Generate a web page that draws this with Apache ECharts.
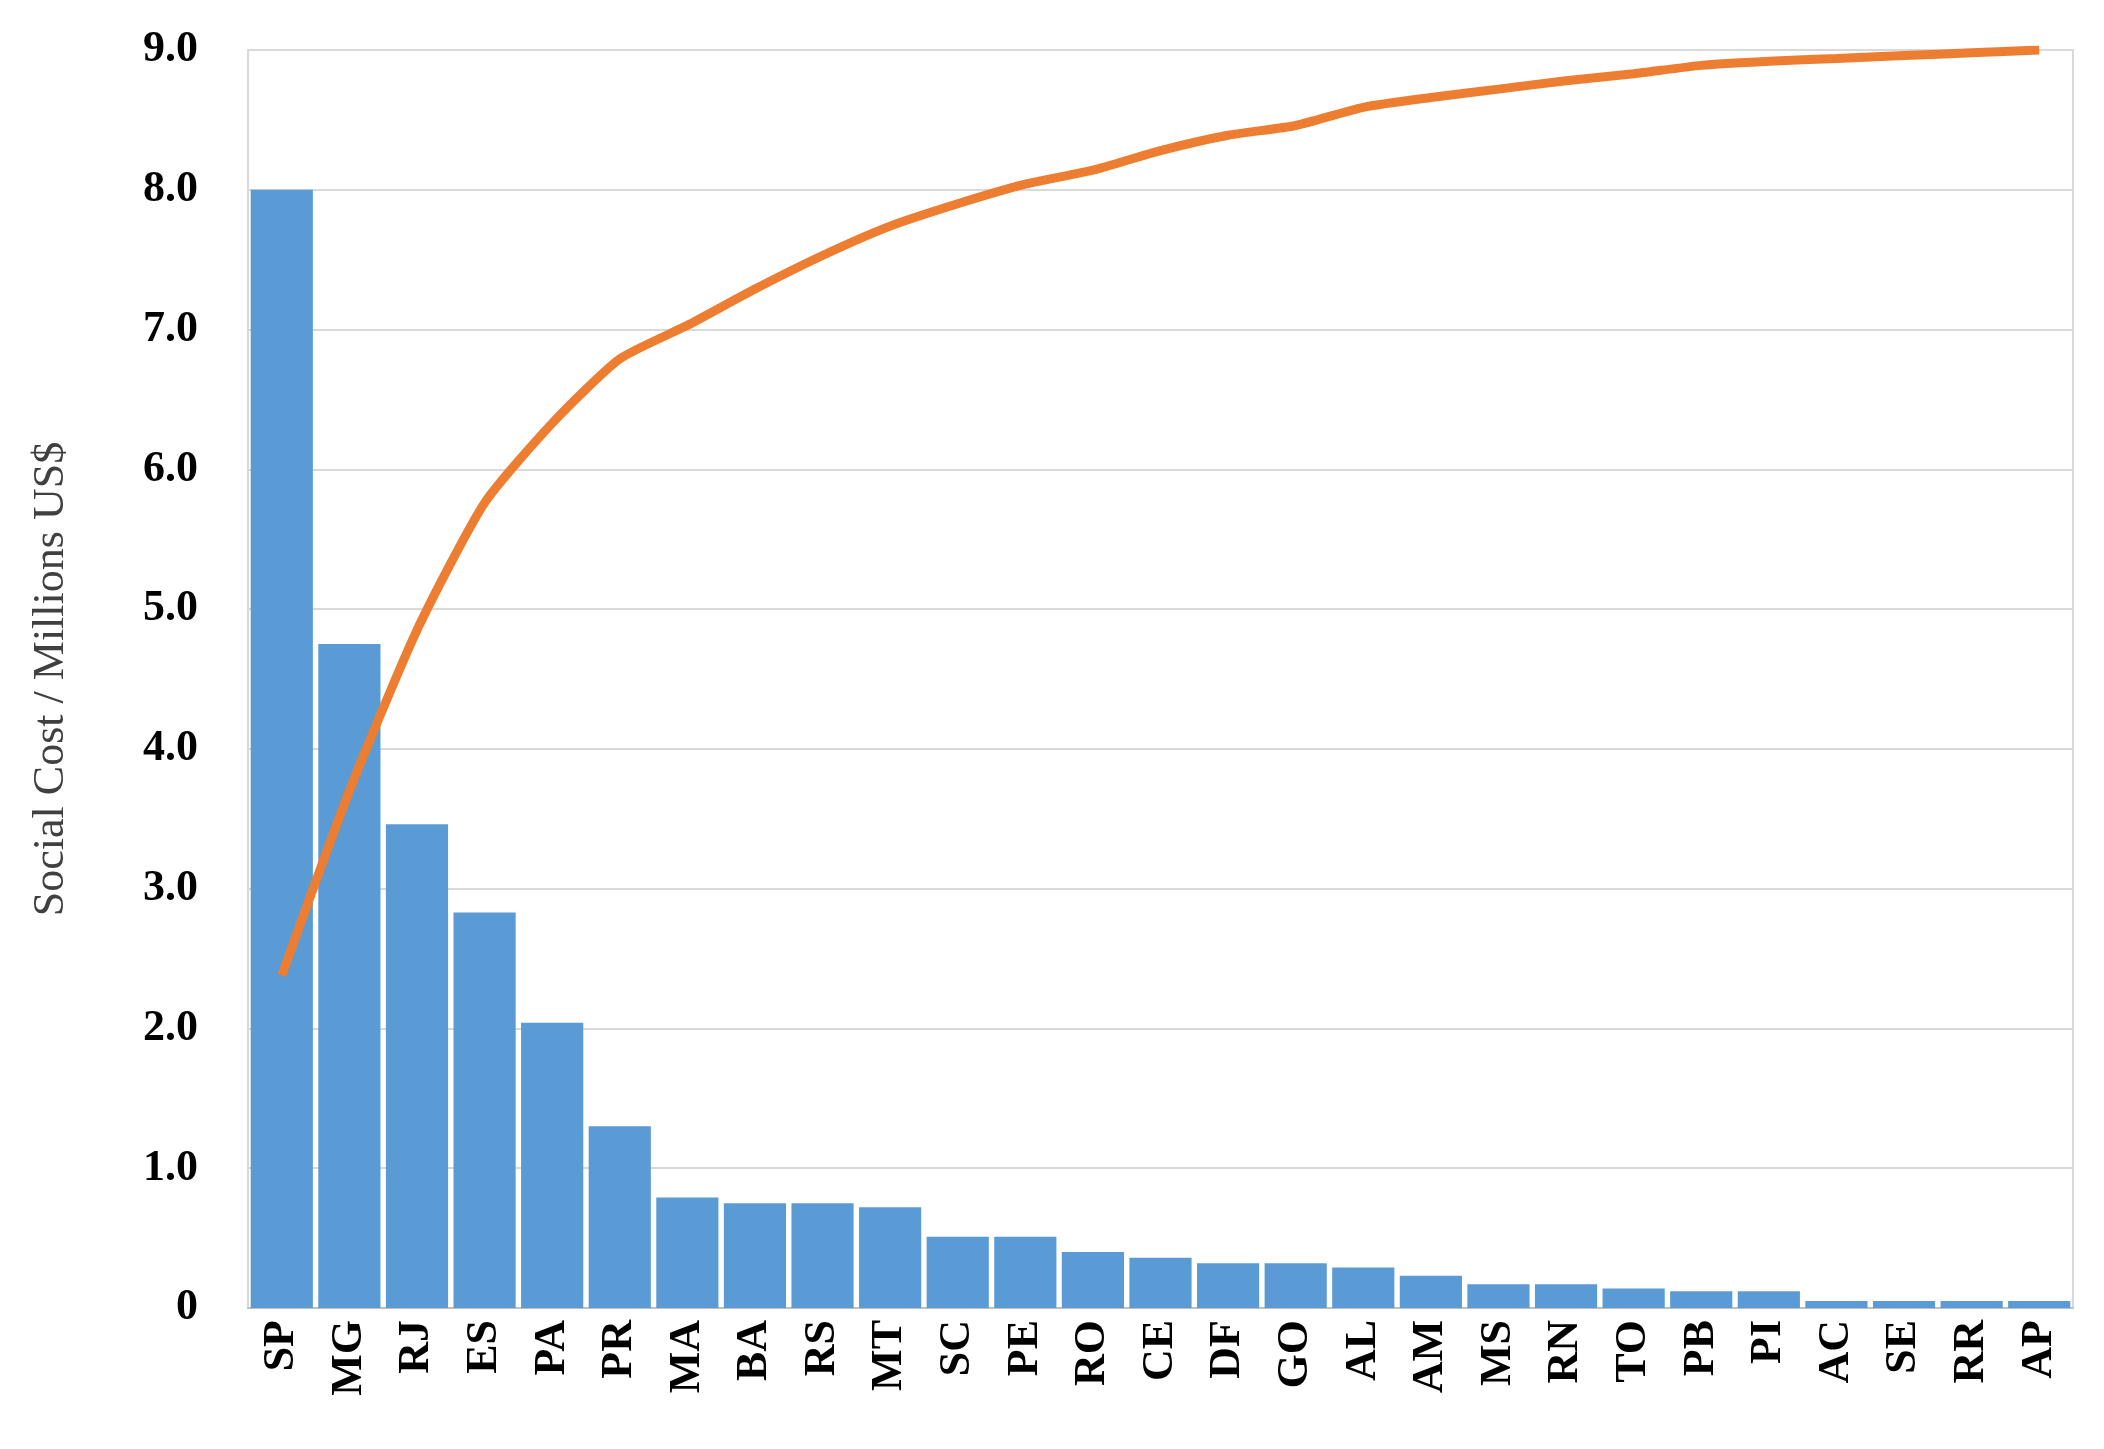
<!DOCTYPE html>
<html>
<head>
<meta charset="utf-8">
<script src="https://cdn.jsdelivr.net/npm/echarts@6/dist/echarts.min.js"></script>
<style>html,body{margin:0;padding:0;background:#fff}#chart{width:2104px;height:1449px}</style>
</head>
<body>
<div id="chart"></div>
<script>
var states = ['SP','MG','RJ','ES','PA','PR','MA','BA','RS','MT','SC','PE','RO','CE','DF','GO','AL','AM','MS','RN','TO','PB','PI','AC','SE','RR','AP'];
var costs = [8.0,4.75,3.46,2.83,2.04,1.30,0.79,0.75,0.75,0.72,0.51,0.51,0.40,0.36,0.32,0.32,0.29,0.23,0.17,0.17,0.14,0.12,0.12,0.05,0.05,0.05,0.05];
var cumulative = [2.38,3.7,4.85,5.76,6.33,6.79,7.03,7.29,7.53,7.74,7.9,8.04,8.14,8.28,8.39,8.46,8.59,8.66,8.72,8.78,8.83,8.89,8.92,8.94,8.96,8.98,9.0];

var chart = echarts.init(document.getElementById('chart'));
var serif = 'Liberation Serif';
chart.setOption({
    animation: false,
    grid: { left: 248, right: 31, top: 50, bottom: 141, show: true, borderColor: '#d9d9d9', borderWidth: 2 },
    xAxis: {
        type: 'category',
        data: states,
        axisTick: { show: false },
        axisLine: { lineStyle: { color: '#bfbfbf', width: 2 } },
        axisLabel: { rotate: 90, color: '#000', fontFamily: serif, fontWeight: 'bold', fontSize: 44, margin: 12 }
    },
    yAxis: {
        type: 'value',
        min: 0, max: 9, interval: 1,
        name: 'Social Cost / Millions US$',
        nameLocation: 'middle',
        nameGap: 175,
        nameTextStyle: { color: '#404040', fontFamily: serif, fontSize: 44 },
        axisLine: { show: false },
        axisTick: { show: false },
        splitLine: { lineStyle: { color: '#d9d9d9', width: 2 } },
        axisLabel: {
            color: '#000', fontFamily: serif, fontWeight: 'bold', fontSize: 44, margin: 50,
            formatter: function (v) { return v === 0 ? '0' : v.toFixed(1); }
        }
    },
    series: [{
        type: 'bar',
        data: costs,
        barCategoryGap: '8%',
        itemStyle: { color: '#5b9bd5' }
    }, {
        type: 'line',
        data: cumulative,
        symbol: 'none',
        smooth: 0.2,
        lineStyle: { color: '#ed7d31', width: 9 }
    }]
});
</script>
</body>
</html>
